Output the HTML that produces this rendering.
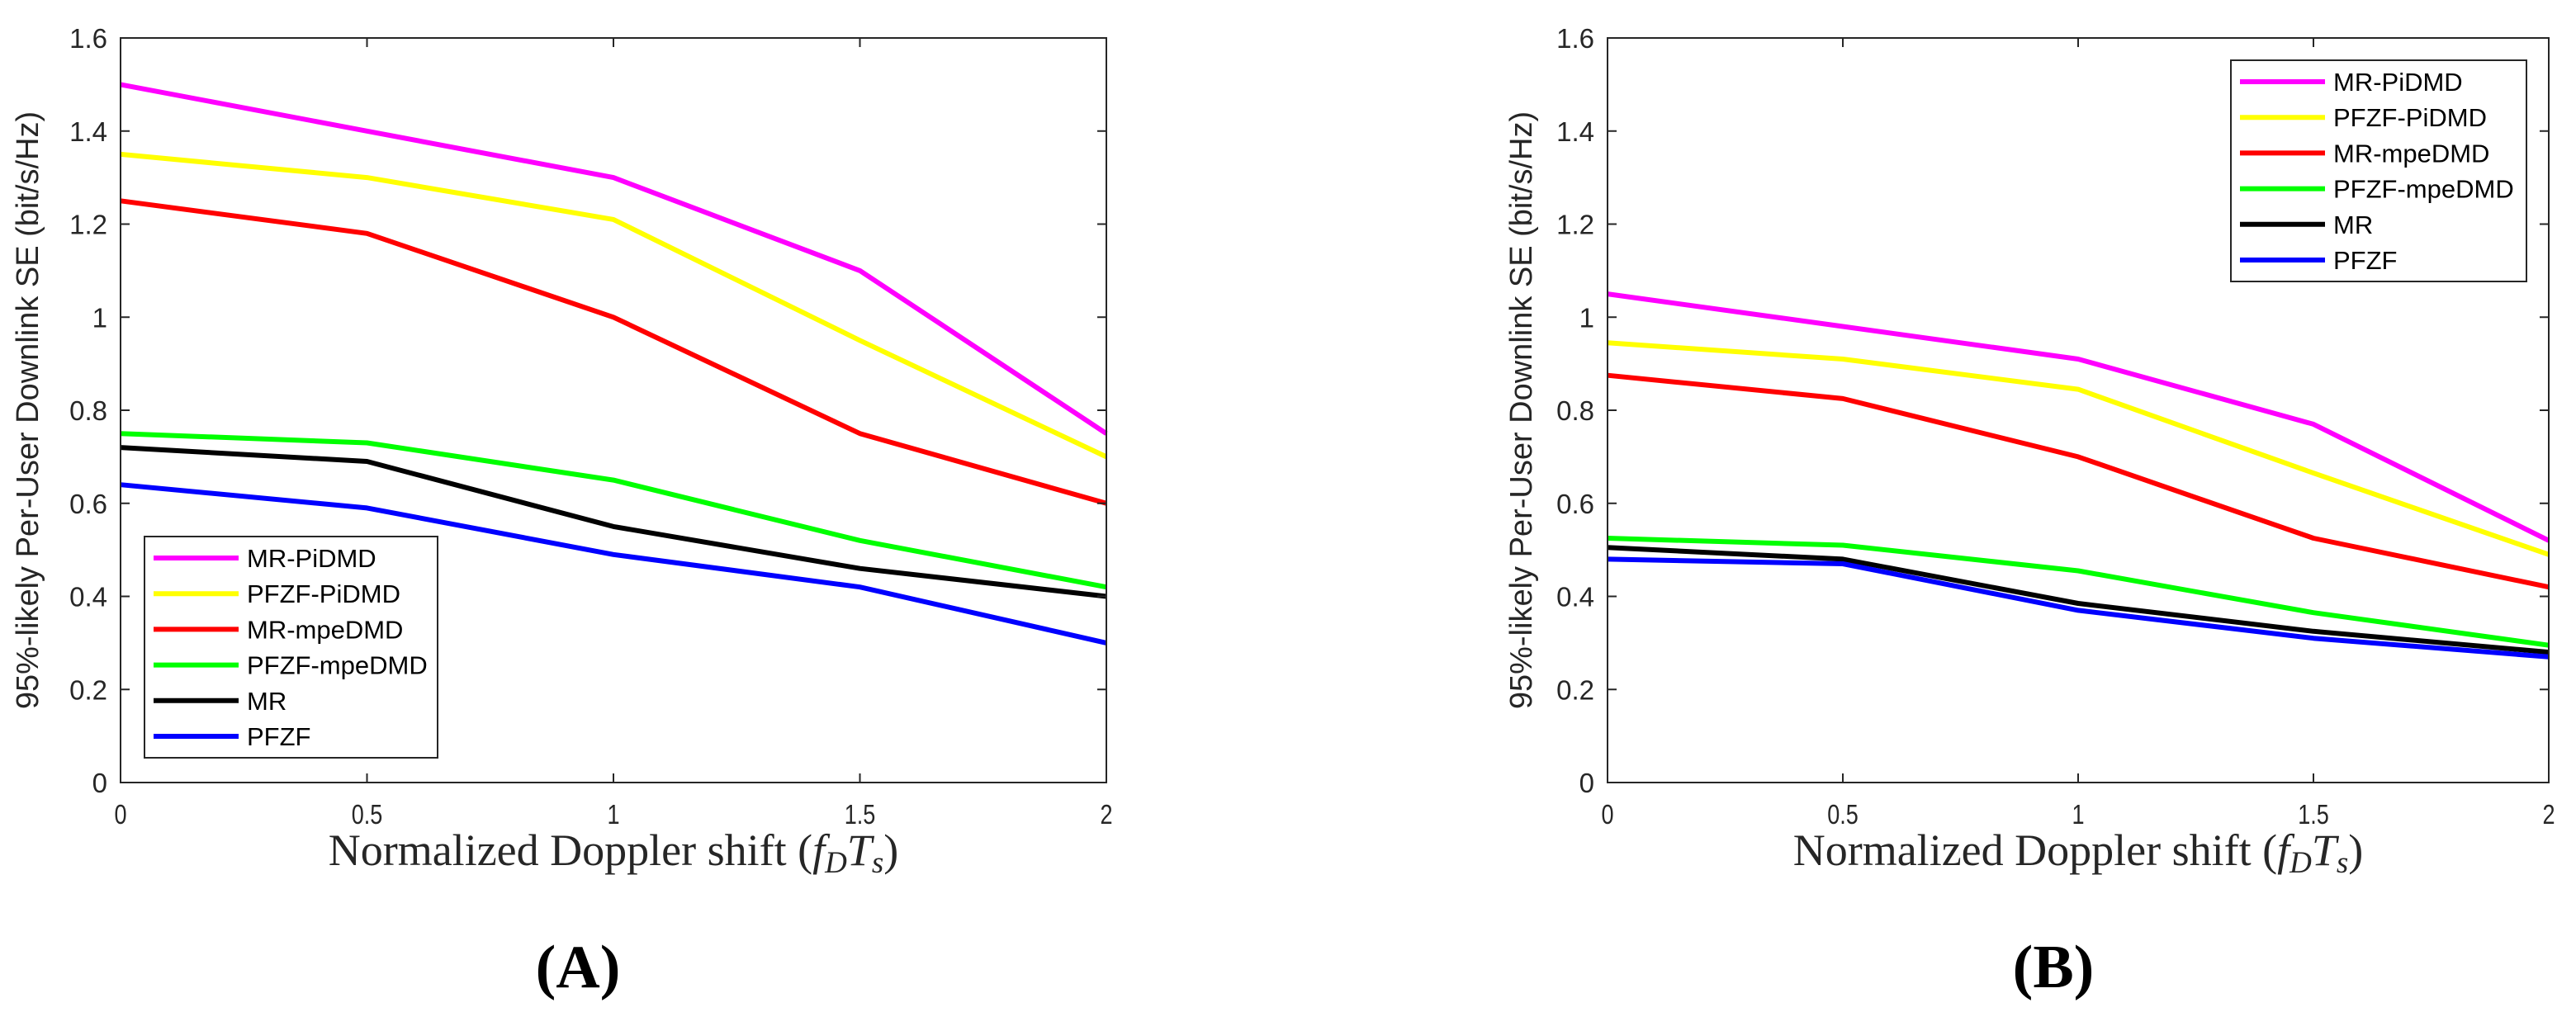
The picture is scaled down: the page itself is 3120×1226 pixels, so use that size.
<!DOCTYPE html>
<html><head><meta charset="utf-8"><style>
html,body{margin:0;padding:0;background:#fff;}
svg{display:block;}
</style></head><body>
<svg id="fig" width="3120" height="1226" viewBox="0 0 3120 1226" xmlns="http://www.w3.org/2000/svg"></svg>
<script>
const xValues = [0, 0.5, 1, 1.5, 2];
const xTicks = [0, 0.5, 1, 1.5, 2];
const xTickLabels = ["0", "0.5", "1", "1.5", "2"];
const yTicks = [0, 0.2, 0.4, 0.6, 0.8, 1, 1.2, 1.4, 1.6];
const yTickLabels = ["0", "0.2", "0.4", "0.6", "0.8", "1", "1.2", "1.4", "1.6"];
const seriesNames = ["MR-PiDMD", "PFZF-PiDMD", "MR-mpeDMD", "PFZF-mpeDMD", "MR", "PFZF"];
const seriesColors = ["#ff00ff", "#ffff00", "#ff0000", "#00ff00", "#000000", "#0000ff"];
// Panel A
const a_mrPiDMD = [1.5, 1.4, 1.3, 1.1, 0.75];
const a_pfzfPiDMD = [1.35, 1.3, 1.21, 0.95, 0.7];
const a_mrMpeDMD = [1.25, 1.18, 1.0, 0.75, 0.6];
const a_pfzfMpeDMD = [0.75, 0.73, 0.65, 0.52, 0.42];
const a_mr = [0.72, 0.69, 0.55, 0.46, 0.40];
const a_pfzf = [0.64, 0.59, 0.49, 0.42, 0.30];
// Panel B
const b_mrPiDMD = [1.05, 0.98, 0.91, 0.77, 0.52];
const b_pfzfPiDMD = [0.945, 0.91, 0.845, 0.665, 0.49];
const b_mrMpeDMD = [0.875, 0.825, 0.70, 0.525, 0.42];
const b_pfzfMpeDMD = [0.525, 0.51, 0.455, 0.365, 0.295];
const b_mr = [0.505, 0.48, 0.385, 0.325, 0.28];
const b_pfzf = [0.48, 0.47, 0.37, 0.31, 0.27];

const NS = "http://www.w3.org/2000/svg";
const svg = document.getElementById("fig");
function el(tag, attrs, parent, text){
  const e = document.createElementNS(NS, tag);
  for (const k in attrs) e.setAttribute(k, attrs[k]);
  if (text !== undefined) e.textContent = text;
  (parent || svg).appendChild(e);
  return e;
}

function drawPanel(cfg){
  const g = el("g", {});
  
  
  const L = cfg.left, R = cfg.right, T = 46, B = 948;
  const xs = v => L + (v - 0) / 2 * (R - L);
  const ys = v => B - v / 1.6 * (B - T);
  cfg.series.forEach((vals, i) => {
    const pts = vals.map((v, j) => xs(xValues[j]).toFixed(1) + "," + ys(v).toFixed(1)).join(" ");
    const p = el("polyline", {points: pts, fill: "none", stroke: seriesColors[i], "stroke-width": 6, "stroke-linejoin": "round"}, g);
    
    
  });
  const box = el("rect", {x: L, y: T, width: R - L, height: B - T, fill: "none", stroke: "#262626", "stroke-width": 2}, g);
  
  
  xTicks.forEach((t, i) => {
    const x = xs(t);
    el("line", {x1: x, y1: B, x2: x, y2: B - 11, stroke: "#262626", "stroke-width": 2}, g);
    el("line", {x1: x, y1: T, x2: x, y2: T + 11, stroke: "#262626", "stroke-width": 2}, g);
    const tl = el("text", {x: x, y: 998, "text-anchor": "middle", "font-family": "Liberation Sans, sans-serif", "font-size": 33, fill: "#262626", transform: `translate(${x},0) scale(0.82,1) translate(${-x},0)`}, g, xTickLabels[i]);
    
    
  });
  yTicks.forEach((t, i) => {
    const y = ys(t);
    el("line", {x1: L, y1: y, x2: L + 11, y2: y, stroke: "#262626", "stroke-width": 2}, g);
    el("line", {x1: R, y1: y, x2: R - 11, y2: y, stroke: "#262626", "stroke-width": 2}, g);
    const tl = el("text", {x: L - 16, y: y + 12, "text-anchor": "end", "font-family": "Liberation Sans, sans-serif", "font-size": 33, fill: "#262626"}, g, yTickLabels[i]);
    
    
  });
  const yl = el("text", {x: 0, y: 0, "text-anchor": "middle", "font-family": "Liberation Sans, sans-serif", "font-size": 38, fill: "#262626", transform: `translate(${L - cfg.ylOff},${(T + B) / 2}) rotate(-90)`}, g, "95%-likely Per-User Downlink SE (bit/s/Hz)");
  
  
  const xl = el("text", {x: (L + R) / 2, y: 1048, "text-anchor": "middle", "font-family": "Liberation Serif, serif", "font-size": 54, fill: "#262626"}, g);
  
  
  el("tspan", {}, xl, "Normalized Doppler shift (");
  el("tspan", {"font-style": "italic"}, xl, "f");
  el("tspan", {"font-style": "italic", "font-size": 37, dy: 9}, xl, "D");
  el("tspan", {"font-style": "italic", dy: -9}, xl, "T");
  el("tspan", {"font-style": "italic", "font-size": 37, dy: 9}, xl, "s");
  el("tspan", {dy: -9}, xl, ")");
  const pl = el("text", {x: cfg.labelX, y: 1196, "text-anchor": "middle", "font-family": "Liberation Serif, serif", "font-size": 74, "font-weight": "bold", fill: "#000"}, g, cfg.label);
  
  
  const lg = el("g", {}, g);
  
  
  el("rect", {x: cfg.lgX, y: cfg.lgY, width: cfg.lgW, height: 268, fill: "#fff", stroke: "#262626", "stroke-width": 2}, lg);
  seriesNames.forEach((n, i) => {
    const ry = cfg.lgY + 26 + i * 43.2;
    const e = el("g", {}, lg);
    
    
    el("line", {x1: cfg.lgX + 11, y1: ry, x2: cfg.lgX + 114, y2: ry, stroke: seriesColors[i], "stroke-width": 6}, e);
    el("text", {x: cfg.lgX + 124, y: ry + 11, "font-family": "Liberation Sans, sans-serif", "font-size": 31, fill: "#000"}, e, n);
  });
}

drawPanel({name: "panel-a", left: 146, right: 1340, label: "(A)", labelX: 700, ylOff: 100,
  series: [a_mrPiDMD, a_pfzfPiDMD, a_mrMpeDMD, a_pfzfMpeDMD, a_mr, a_pfzf],
  lgX: 175, lgY: 650, lgW: 355});
drawPanel({name: "panel-b", left: 1947, right: 3087, label: "(B)", labelX: 2487, ylOff: 92,
  series: [b_mrPiDMD, b_pfzfPiDMD, b_mrMpeDMD, b_pfzfMpeDMD, b_mr, b_pfzf],
  lgX: 2702, lgY: 73, lgW: 358});
</script>
</body></html>
